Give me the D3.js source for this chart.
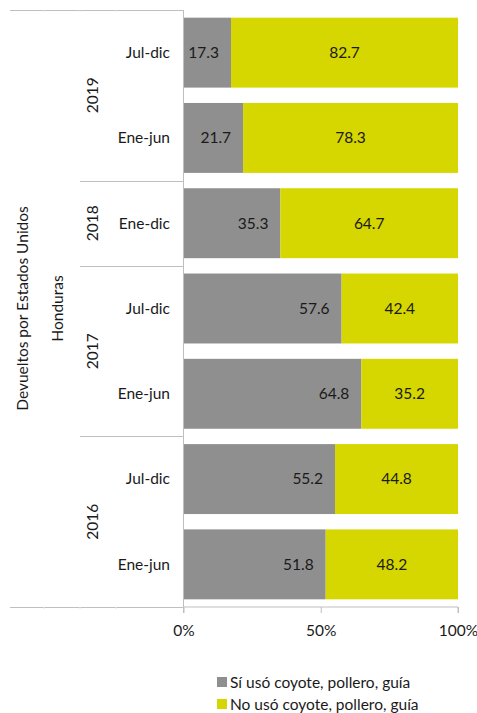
<!DOCTYPE html>
<html><head><meta charset="utf-8">
<script src="https://cdn.jsdelivr.net/npm/d3@7"></script>
<style>body{margin:0;background:#fff}svg{display:block}text{font-family:Lato,"Open Sans",sans-serif;fill:#1a1a1a}</style>
</head><body>
<script>
const years = ["2019","2019","2018","2017","2017","2016","2016"];
const periods = ["Jul-dic","Ene-jun","Ene-dic","Jul-dic","Ene-jun","Jul-dic","Ene-jun"];
const siUso = [17.3,21.7,35.3,57.6,64.8,55.2,51.8];
const noUso = [82.7,78.3,64.7,42.4,35.2,44.8,48.2];
const seriesNames = ["Sí usó coyote, pollero, guía","No usó coyote, pollero, guía"];
const seriesColors = ["#8f8f8f","#d6d600"];
const xTicks = [0,50,100];
const outerTitle = "Devueltos por Estados Unidos";
const innerTitle = "Honduras";

(function(){
const W=477,H=713;
const svg=d3.select("body").append("svg").attr("width",W).attr("height",H);
const pL=183.5,pR=458,pT=10,pB=607;
const ids=d3.range(periods.length);
const y=d3.scaleBand().domain(ids).range([pT,pB]).paddingInner(0.18).paddingOuter(0.09);
const x=d3.scaleLinear().domain([0,100]).range([pL,pR]);
const fs=15.5, axisCol="#bfbfbf";

const g=svg.append("g");
ids.forEach(i=>{
  const a=siUso[i], b=noUso[i];
  g.append("rect").attr("x",x(0)).attr("y",y(i)).attr("width",x(a)-x(0)).attr("height",y.bandwidth()).attr("fill",seriesColors[0]);
  g.append("rect").attr("x",x(a)).attr("y",y(i)).attr("width",x(a+b)-x(a)).attr("height",y.bandwidth()).attr("fill",seriesColors[1]);
  const cy=y(i)+y.bandwidth()/2;
  g.append("text").attr("x",x(a)-12).attr("y",cy).attr("dy","0.35em").attr("text-anchor","end").attr("font-size",fs).text(a.toFixed(1));
  g.append("text").attr("x",(x(a)+x(a+b))/2).attr("y",cy).attr("dy","0.35em").attr("text-anchor","middle").attr("font-size",fs).text(b.toFixed(1));
  g.append("text").attr("x",170).attr("y",cy).attr("dy","0.35em").attr("text-anchor","end").attr("font-size",fs).text(periods[i]);
});

const xa=svg.append("g").attr("transform",`translate(0,${pB})`)
  .call(d3.axisBottom(x).tickValues(xTicks).tickFormat(d=>d+"%").tickSize(6).tickPadding(12));
xa.select(".domain").attr("stroke",axisCol).attr("d",`M${pL},6V0H${pR}V6`);
xa.selectAll(".tick line").attr("stroke",axisCol);
xa.selectAll(".tick text").attr("font-size",fs).attr("font-family","Lato").attr("fill","#1a1a1a");

svg.append("line").attr("x1",pL).attr("x2",pL).attr("y1",pT).attr("y2",pB+6).attr("stroke",axisCol);

const step=y.step();
const boundaries=[];
for(let i=1;i<years.length;i++) if(years[i]!==years[i-1]) boundaries.push(i);
svg.append("line").attr("x1",10).attr("x2",pL).attr("y1",pT+0.5).attr("y2",pT+0.5).attr("stroke",axisCol);
svg.append("line").attr("x1",10).attr("x2",pL).attr("y1",pB+0.5).attr("y2",pB+0.5).attr("stroke",axisCol);
[44,80,116].forEach(tx=>{
  svg.append("line").attr("x1",tx).attr("x2",tx).attr("y1",pT).attr("y2",pT+2).attr("stroke","#e4e4e4");
  svg.append("line").attr("x1",tx).attr("x2",tx).attr("y1",pB).attr("y2",pB+2).attr("stroke","#e4e4e4");
});
boundaries.forEach(i=>{
  const yy=Math.round(pT+i*step)+0.5;
  svg.append("line").attr("x1",80).attr("x2",pL).attr("y1",yy).attr("y2",yy).attr("stroke",axisCol);
});
const groups=[];let s=0;
for(let i=1;i<=years.length;i++){ if(i===years.length||years[i]!==years[i-1]){groups.push([years[s],s,i]);s=i;} }
groups.forEach(([yr,a,b])=>{
  const cy=pT+(a+b)/2*step;
  svg.append("text").attr("transform",`translate(93,${cy}) rotate(-90)`).attr("dy","0.35em").attr("text-anchor","middle").attr("font-size",fs).text(yr);
});
svg.append("text").attr("transform",`translate(58,${(pT+pB)/2}) rotate(-90)`).attr("dy","0.35em").attr("text-anchor","middle").attr("font-size",fs).text(innerTitle);
svg.append("text").attr("transform",`translate(23,${(pT+pB)/2}) rotate(-90)`).attr("dy","0.35em").attr("text-anchor","middle").attr("font-size",fs).text(outerTitle);

seriesNames.forEach((n,i)=>{
  const ly=677+i*22;
  svg.append("rect").attr("x",217).attr("y",ly).attr("width",10).attr("height",10).attr("fill",seriesColors[i]);
  svg.append("text").attr("x",230).attr("y",ly+6).attr("dy","0.35em").attr("font-size",fs).text(n);
});
})();
</script>
</body></html>
